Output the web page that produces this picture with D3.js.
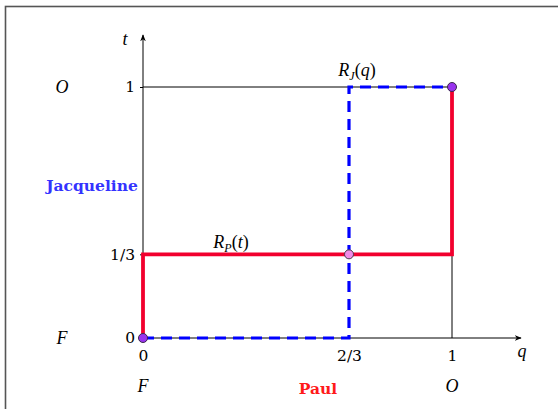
<!DOCTYPE html>
<html>
<head>
<meta charset="utf-8">
<script src="https://cdn.jsdelivr.net/npm/d3@7"></script>
<style>
  html, body { margin: 0; padding: 0; background: #fff; }
  svg { display: block; }
  text { font-family: "DejaVu Serif", "Liberation Serif", serif; }
  .it { font-family: "Liberation Serif", "DejaVu Serif", serif; font-style: italic; }
</style>
</head>
<body>
<script>
// Best-response diagram: Paul chooses q, Jacqueline chooses t.
const qTicks = [0, 2 / 3, 1];
const qTickLabels = ["0", "2/3", "1"];
const tTicks = [0, 1 / 3, 1];
const tTickLabels = ["0", "1/3", "1"];

// Paul's best response R_P(t), as (q, t) corners
const paulResponse = [[0, 0], [0, 1 / 3], [1, 1 / 3], [1, 1]];
// Jacqueline's best response R_J(q)
const jacquelineResponse = [[0, 0], [2 / 3, 0], [2 / 3, 1], [1, 1]];
// Equilibria: pure ones and the mixed one
const pureEquilibria = [[0, 0], [1, 1]];
const mixedEquilibria = [[2 / 3, 1 / 3]];

// Strategy names placed beside the axes
const qStrategyNames = [[0, "F"], [1, "O"]];
const tStrategyNames = [[0, "F"], [1, "O"]];

const W = 558, H = 409;
const svg = d3.select("body").append("svg").attr("width", W).attr("height", H);

// outer frame (only left and top edges fall inside the view)
svg.append("rect").attr("x", 5.5).attr("y", 6.5).attr("width", 600).attr("height", 500)
  .attr("fill", "none").attr("stroke", "#555").attr("stroke-width", 1.6);

const x = d3.scaleLinear().domain([0, 1]).range([143, 452]);
const y = d3.scaleLinear().domain([0, 1]).range([338, 87]);

const defs = svg.append("defs");
defs.append("marker").attr("id", "arrow").attr("viewBox", "0 0 10 10")
  .attr("refX", 9).attr("refY", 5).attr("markerWidth", 7).attr("markerHeight", 7)
  .attr("orient", "auto")
  .append("path").attr("d", "M0,1 L10,5 L0,9 L3,5 Z").attr("fill", "#000");

// guide lines at t = 1 and q = 1
svg.append("line").attr("x1", x(0)).attr("x2", x(1)).attr("y1", y(1)).attr("y2", y(1))
  .attr("stroke", "#000").attr("stroke-width", 1);
svg.append("line").attr("x1", x(1)).attr("x2", x(1)).attr("y1", y(1)).attr("y2", y(0))
  .attr("stroke", "#000").attr("stroke-width", 1);

// axes with arrowheads
svg.append("line").attr("x1", x(0)).attr("x2", 521).attr("y1", y(0)).attr("y2", y(0))
  .attr("stroke", "#000").attr("stroke-width", 1).attr("marker-end", "url(#arrow)");
svg.append("line").attr("x1", x(0)).attr("x2", x(0)).attr("y1", y(0)).attr("y2", 35)
  .attr("stroke", "#000").attr("stroke-width", 1).attr("marker-end", "url(#arrow)");

const yAxis = d3.axisLeft(y).tickValues(tTicks).tickFormat((d, i) => tTickLabels[i])
  .tickSize(3).tickPadding(5);
const gy = svg.append("g").attr("transform", `translate(${x(0)},0)`).call(yAxis);
gy.select(".domain").remove();
gy.selectAll("text").attr("font-size", 15.5).attr("fill", "#000")
  .style("font-family", "'DejaVu Serif', serif");

const xAxis = d3.axisBottom(x).tickValues(qTicks).tickFormat((d, i) => qTickLabels[i])
  .tickSize(0).tickPadding(12);
const gx = svg.append("g").attr("transform", `translate(0,${y(0)})`).call(xAxis);
gx.select(".domain").remove();
gx.selectAll("text").attr("font-size", 15.5).attr("fill", "#000")
  .style("font-family", "'DejaVu Serif', serif");

// axis variable names
svg.append("text").attr("class", "it").attr("x", 125).attr("y", 45).attr("text-anchor", "middle")
  .attr("font-size", 18).text("t");
svg.append("text").attr("class", "it").attr("x", 522).attr("y", 357).attr("text-anchor", "middle")
  .attr("font-size", 18).text("q");

// strategy names
svg.selectAll(".tname").data(tStrategyNames).enter().append("text").attr("class", "it")
  .attr("x", 62).attr("y", d => y(d[0]) + 6).attr("text-anchor", "middle")
  .attr("font-size", 18).text(d => d[1]);
svg.selectAll(".qname").data(qStrategyNames).enter().append("text").attr("class", "it")
  .attr("x", d => x(d[0])).attr("y", 392).attr("text-anchor", "middle")
  .attr("font-size", 18).text(d => d[1]);

// player names
svg.append("text").attr("x", 92).attr("y", 191).attr("text-anchor", "middle")
  .attr("font-size", 15.5).attr("font-weight", "bold").attr("fill", "#3333ff").text("Jacqueline");
svg.append("text").attr("x", 318).attr("y", 394).attr("text-anchor", "middle")
  .attr("font-size", 15.5).attr("font-weight", "bold").attr("fill", "#ff1a1a").text("Paul");

const line = d3.line().x(d => x(d[0])).y(d => y(d[1]));

// Paul's best response
svg.append("path").datum(paulResponse).attr("d", line)
  .attr("fill", "none").attr("stroke", "#f2002e").attr("stroke-width", 3.8)
  .attr("stroke-linejoin", "miter");

// Jacqueline's best response (dashed)
svg.append("path").datum(jacquelineResponse).attr("d", line)
  .attr("fill", "none").attr("stroke", "#0000ff").attr("stroke-width", 3.2)
  .attr("stroke-dasharray", "11,7");

// curve labels
function subLabel(cx, cy, main, sub, arg) {
  const t = svg.append("text").attr("x", cx).attr("y", cy).attr("text-anchor", "middle")
    .attr("font-size", 18).style("font-family", "'Liberation Serif', serif");
  t.append("tspan").attr("font-style", "italic").text(main);
  t.append("tspan").attr("font-style", "italic").attr("font-size", 12).attr("dy", 4).text(sub);
  t.append("tspan").attr("dy", -4).text("(");
  t.append("tspan").attr("font-style", "italic").text(arg);
  t.append("tspan").text(")");
}
subLabel(357, 76, "R", "J", "q");
subLabel(231, 248, "R", "P", "t");

// equilibrium points
svg.selectAll(".pure").data(pureEquilibria).enter().append("circle")
  .attr("cx", d => x(d[0])).attr("cy", d => y(d[1])).attr("r", 4.5)
  .attr("fill", "#9933ee").attr("stroke", "#3a2a4a").attr("stroke-width", 1);
svg.selectAll(".mixed").data(mixedEquilibria).enter().append("circle")
  .attr("cx", d => x(d[0])).attr("cy", d => y(d[1])).attr("r", 4.5)
  .attr("fill", "#f08ce8").attr("stroke", "#4a3a4a").attr("stroke-width", 1);
</script>
</body>
</html>
